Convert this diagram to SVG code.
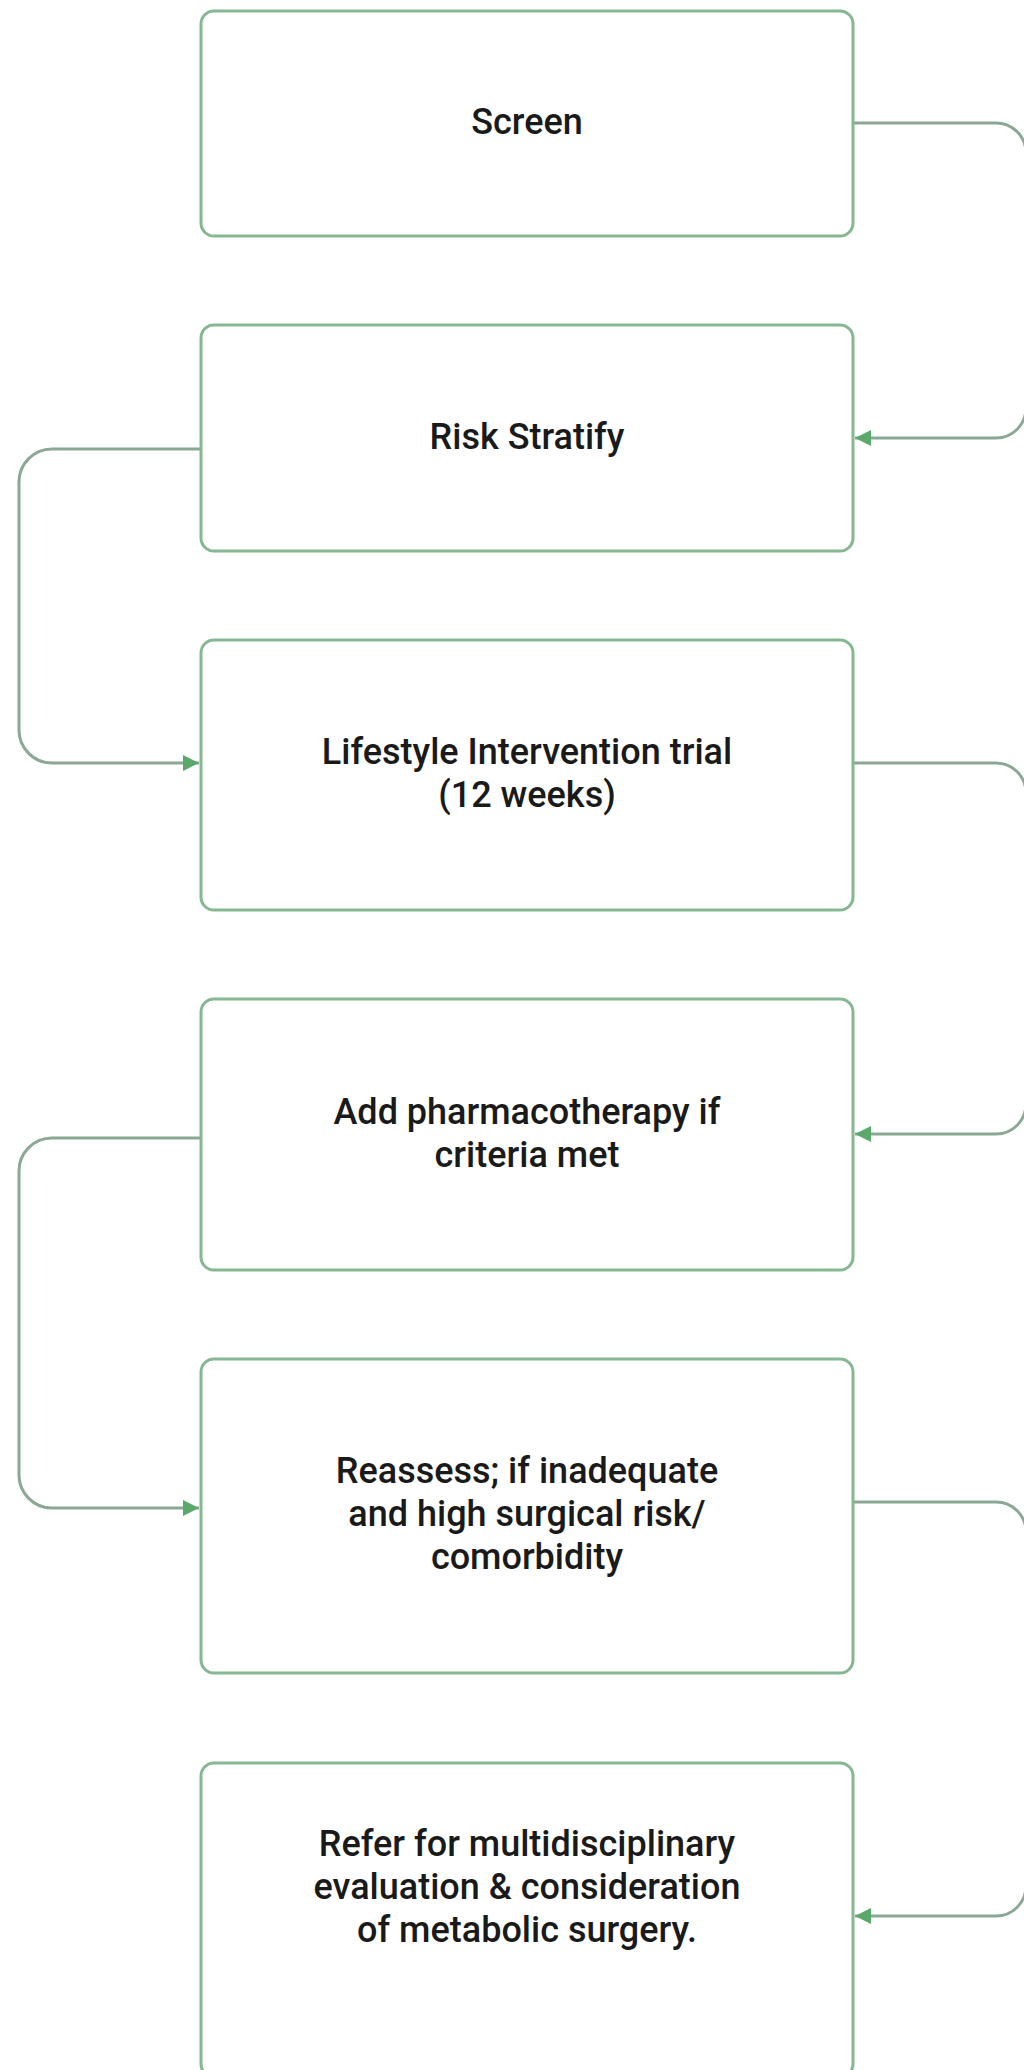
<svg xmlns="http://www.w3.org/2000/svg" width="1024" height="2070" viewBox="0 0 1024 2070">
<style>
.box{fill:#ffffff;stroke:#86b793;stroke-width:3}
.conn{fill:none;stroke:#8aa895;stroke-width:3}
.lbl{font-family:Roboto,"Liberation Sans",sans-serif;font-size:36px;font-weight:500;fill:#1a1a1a;text-anchor:middle}
</style>
<defs>
<marker id="arr" markerUnits="userSpaceOnUse" markerWidth="18" markerHeight="16" refX="16" refY="8" orient="auto">
<path d="M0,0 L16,8 L0,16 Z" fill="#5aa86c"/>
</marker>
</defs>
<rect width="1024" height="2070" fill="#ffffff"/>
<g id="connectors">
<path class="conn" d="M853,123 H996 A30,30 0 0 1 1026,153 V408 A30,30 0 0 1 996,438 H855" marker-end="url(#arr)"/>
<path class="conn" d="M201,449 H52 A33,33 0 0 0 19,482 V730 A33,33 0 0 0 52,763 H199" marker-end="url(#arr)"/>
<path class="conn" d="M853,763 H996 A30,30 0 0 1 1026,793 V1104 A30,30 0 0 1 996,1134 H855" marker-end="url(#arr)"/>
<path class="conn" d="M201,1138 H52 A33,33 0 0 0 19,1171 V1475 A33,33 0 0 0 52,1508 H199" marker-end="url(#arr)"/>
<path class="conn" d="M853,1502 H996 A30,30 0 0 1 1026,1532 V1886 A30,30 0 0 1 996,1916 H855" marker-end="url(#arr)"/>
</g>
<g id="n1">
<rect class="box" x="201" y="11" width="652" height="225" rx="13"/>
<text class="lbl" x="527" y="134">Screen</text>
</g>
<g id="n2">
<rect class="box" x="201" y="325" width="652" height="226" rx="13"/>
<text class="lbl" x="527" y="449">Risk Stratify</text>
</g>
<g id="n3">
<rect class="box" x="201" y="640" width="652" height="270" rx="13"/>
<text class="lbl" x="527" y="764">Lifestyle Intervention trial</text>
<text class="lbl" x="527" y="807">(12 weeks)</text>
</g>
<g id="n4">
<rect class="box" x="201" y="999" width="652" height="271" rx="13"/>
<text class="lbl" x="527" y="1124">Add pharmacotherapy if</text>
<text class="lbl" x="527" y="1167">criteria met</text>
</g>
<g id="n5">
<rect class="box" x="201" y="1359" width="652" height="314" rx="13"/>
<text class="lbl" x="527" y="1483">Reassess; if inadequate</text>
<text class="lbl" x="527" y="1526">and high surgical risk/</text>
<text class="lbl" x="527" y="1569">comorbidity</text>
</g>
<g id="n6">
<rect class="box" x="201" y="1763" width="652" height="314" rx="13"/>
<text class="lbl" x="527" y="1856">Refer for multidisciplinary</text>
<text class="lbl" x="527" y="1899">evaluation &amp; consideration</text>
<text class="lbl" x="527" y="1942">of metabolic surgery.</text>
</g>
</svg>
